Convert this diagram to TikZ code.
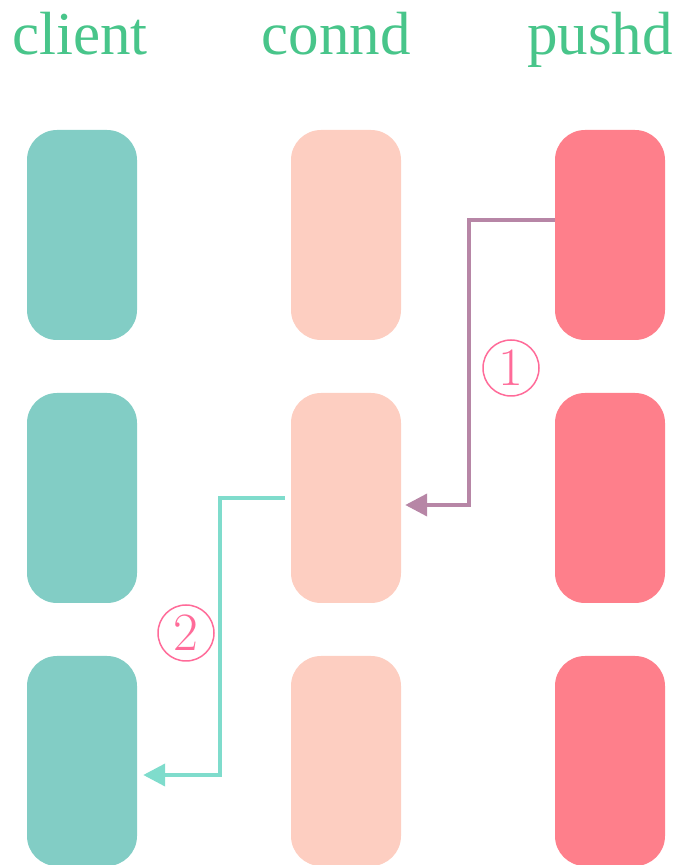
\documentclass[tikz,border=0pt]{standalone}
\usepackage{fontspec}
\newfontfamily\titlefont{Liberation Serif}
\usetikzlibrary{arrows.meta}
\definecolor{titlegreen}{HTML}{48C58A}
\definecolor{clientc}{HTML}{82CDC5}
\definecolor{conndc}{HTML}{FDCEC1}
\definecolor{pushdc}{HTML}{FE7F8B}
\definecolor{arrowa}{HTML}{B786A6}
\definecolor{arrowb}{HTML}{7FDCCC}
\definecolor{circlec}{HTML}{FF6B99}
\begin{document}
\begin{tikzpicture}[x=1pt,y=1pt,
  box/.style={rounded corners=30pt, minimum width=110pt, minimum height=210pt, inner sep=0pt},
  clientbox/.style={box, fill=clientc},
  conndbox/.style={box, fill=conndc},
  pushdbox/.style={box, fill=pushdc},
  title/.style={text=titlegreen, anchor=base, inner sep=0pt, font=\titlefont\fontsize{61}{61}\selectfont},
  num/.style={circle, draw=circlec, text=circlec, line width=1.5pt, minimum size=56pt, inner sep=0pt, font=\fontsize{54}{54}\selectfont},
  arr/.style={line width=4pt, -{Triangle[length=22pt,width=22pt]}}
]
\useasboundingbox (0,0) rectangle (679,865);
\node[title] (tclient) at (80,810) {client};
\node[title] (tconnd) at (336,810) {connd};
\node[title] (tpushd) at (600,810) {pushd};

\node[clientbox] (k1) at (82,630) {};
\node[clientbox] (k2) at (82,367) {};
\node[clientbox] (k3) at (82,104) {};
\node[conndbox] (c1) at (346,630) {};
\node[conndbox] (c2) at (346,367) {};
\node[conndbox] (c3) at (346,104) {};
\node[pushdbox] (p1) at (610,630) {};
\node[pushdbox] (p2) at (610,367) {};
\node[pushdbox] (p3) at (610,104) {};

\draw[arr, draw=arrowa] ([yshift=15pt]p1.west) -- ++(-86,0) |- ([xshift=4pt,yshift=-7pt]c2.east);
\draw[arr, draw=arrowb] ([xshift=-6pt]c2.west) -- ++(-65,0) |- ([xshift=6pt,yshift=-14pt]k3.east);

\node[num] (n1) at (511,497) {1};
\node[num] (n2) at (186,232) {2};
\end{tikzpicture}
\end{document}
